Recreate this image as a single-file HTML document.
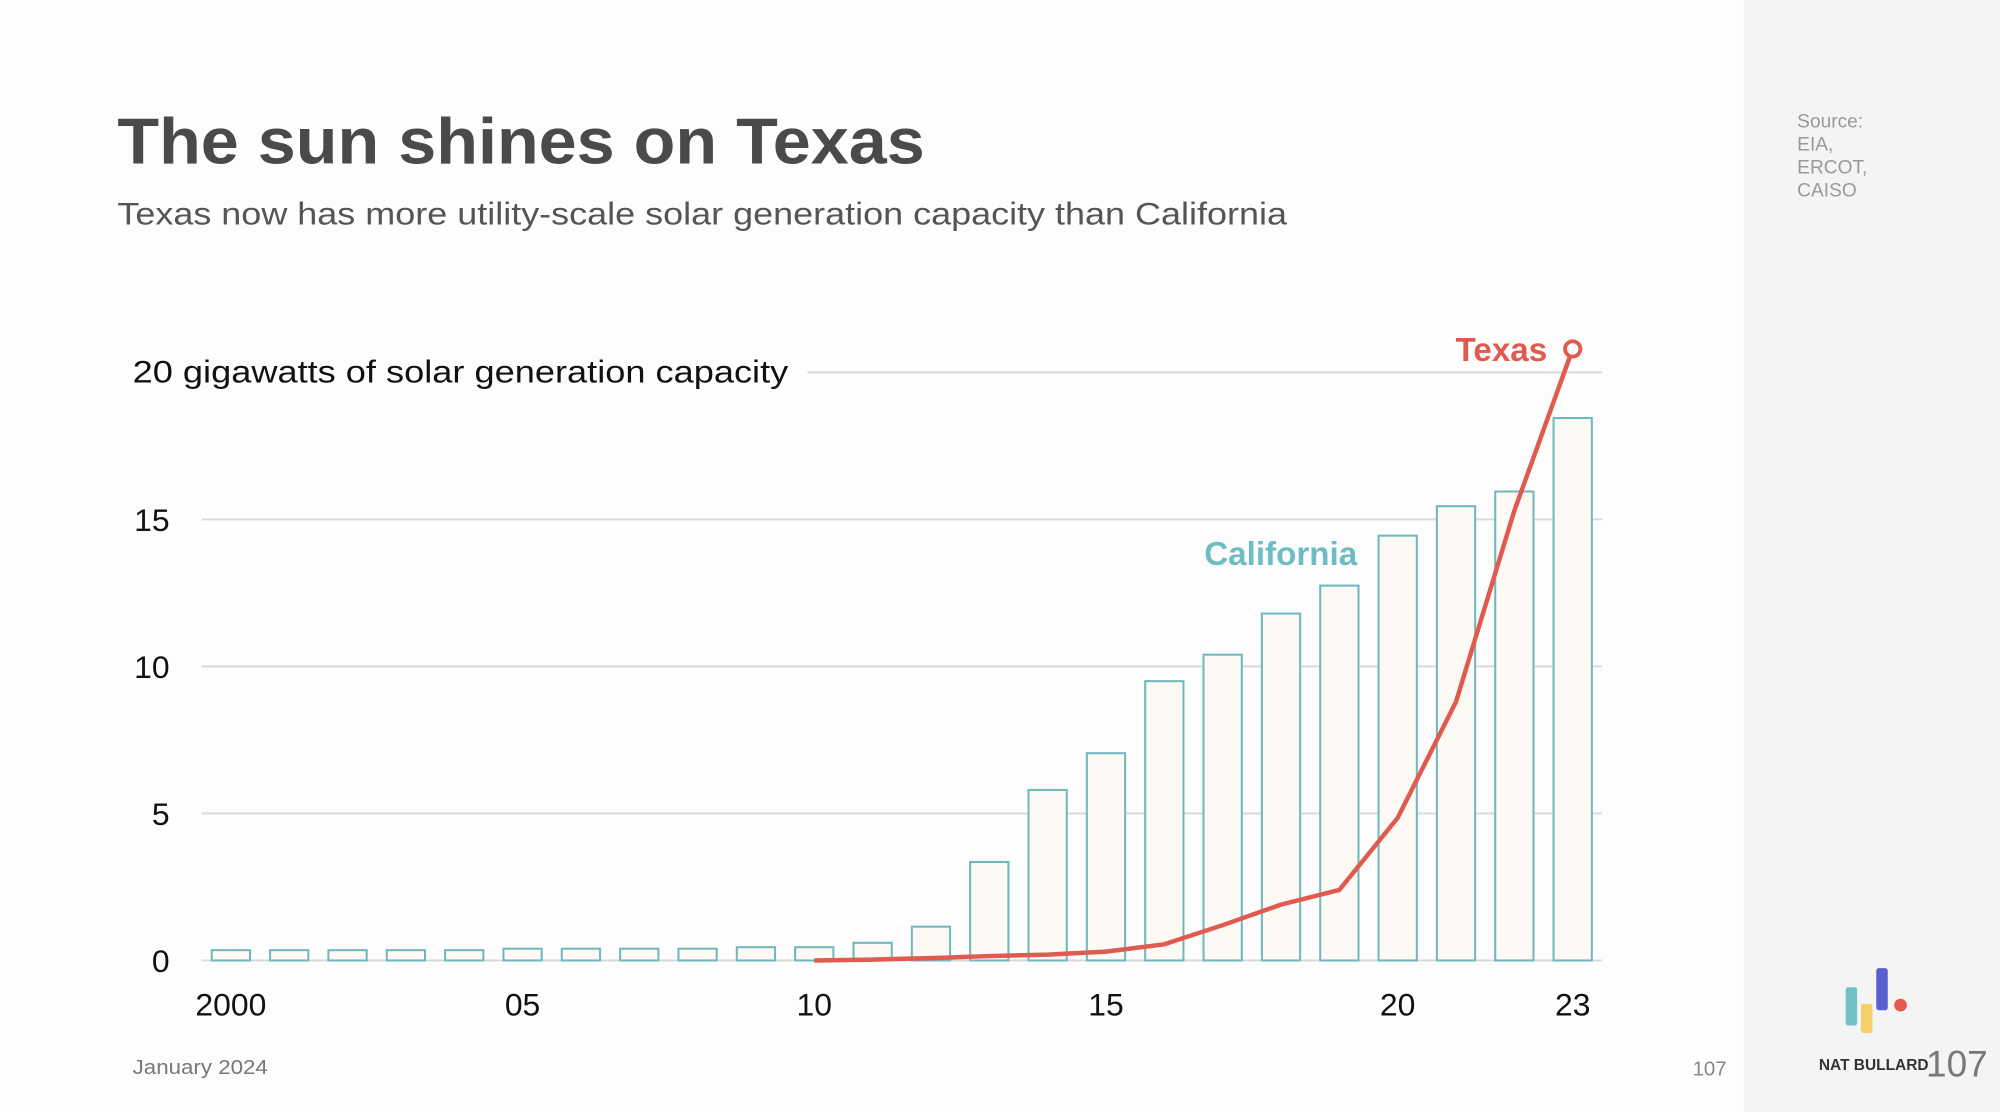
<!DOCTYPE html>
<html><head><meta charset="utf-8"><style>
html,body{margin:0;padding:0;background:#fdfdfd;}
svg{display:block;font-family:"Liberation Sans",sans-serif;}
</style></head><body>
<svg id="chart" width="2000" height="1112" viewBox="0 0 1568 871.8" xmlns="http://www.w3.org/2000/svg">
<rect x="0" y="0" width="1568" height="872" fill="#fdfdfd"/>
<rect x="1367" y="0" width="201" height="872" fill="#f4f4f4"/>
<text x="92" y="128" font-size="51" font-weight="bold" fill="#4a4a4a" textLength="633" lengthAdjust="spacingAndGlyphs">The sun shines on Texas</text>
<text x="92" y="176" font-size="25" fill="#555" textLength="917" lengthAdjust="spacingAndGlyphs">Texas now has more utility-scale solar generation capacity than California</text>
<g font-size="15" fill="#999">
<text x="1409" y="100">Source:</text><text x="1409" y="118">EIA,</text><text x="1409" y="136">ERCOT,</text><text x="1409" y="154">CAISO</text></g>
<text x="104" y="842" font-size="16" fill="#777" textLength="106" lengthAdjust="spacingAndGlyphs">January 2024</text>
<text x="1327" y="843" font-size="16" fill="#888">107</text>
<g>
<rect x="1447" y="774" width="9" height="30" rx="2" fill="#74c0c6"/>
<rect x="1459" y="787" width="9" height="23" rx="2" fill="#f5cf6a"/>
<rect x="1471" y="759" width="9" height="33" rx="2" fill="#5a5fd0"/>
<circle cx="1490" cy="788" r="5" fill="#e05a50"/>
</g>
<text x="1426" y="839" font-size="12" font-weight="bold" fill="#333" textLength="86" lengthAdjust="spacingAndGlyphs">NAT BULLARD</text>
<text x="1510" y="844" font-size="29" fill="#777">107</text>
<g id="grid"></g><g id="bars"></g><g id="line"></g><g id="xlabels"></g>
<text x="1064" y="443" font-size="26" font-weight="bold" fill="#6fbcc4" text-anchor="end">California</text>
<text x="1213" y="283" font-size="26" font-weight="bold" fill="#e05a50" text-anchor="end">Texas</text>
</svg>
<script>
const years=[2000,2001,2002,2003,2004,2005,2006,2007,2008,2009,2010,2011,2012,2013,2014,2015,2016,2017,2018,2019,2020,2021,2022,2023];
const california=[0.35,0.35,0.35,0.35,0.35,0.4,0.4,0.4,0.4,0.45,0.45,0.6,1.15,3.35,5.8,7.05,9.5,10.4,11.8,12.75,14.45,15.45,15.95,18.45];
const texasYears=[2010,2011,2012,2013,2014,2015,2016,2017,2018,2019,2020,2021,2022,2023];
const texas=[0,0.03,0.08,0.15,0.2,0.3,0.55,1.2,1.9,2.4,4.85,8.8,15.3,20.8];
const yTicks=[0,5,10,15,20];
const xTickYears=[2000,2005,2010,2015,2020,2023];
const xTickLabels=["2000","05","10","15","20","23"];
const NS="http://www.w3.org/2000/svg";
const x=y=>181+(y-2000)*(1052/23);
const yS=v=>753-v*23.05;
function mk(tag,attrs,parent){const e=document.createElementNS(NS,tag);for(const k in attrs)e.setAttribute(k,attrs[k]);parent.appendChild(e);return e;}
const grid=document.getElementById('grid');
yTicks.forEach(t=>{
  const x0=t===20?633:158;
  const l=mk('line',{x1:x0,x2:1256,y1:yS(t),y2:yS(t),stroke:'#d8d8d8','stroke-width':1.5},grid);
  
  
  let tx;
  if(t===20){
    tx=mk('text',{x:104,y:yS(t)+8,'font-size':25,fill:'#111',textLength:514,lengthAdjust:'spacingAndGlyphs'},grid);
    tx.textContent='20 gigawatts of solar generation capacity';
  } else {
    tx=mk('text',{x:133,y:yS(t)+9,'font-size':25,fill:'#111','text-anchor':'end'},grid);
    tx.textContent=String(t);
  }
  
  
});
const bars=document.getElementById('bars');
years.forEach((yr,i)=>{
  const top=yS(california[i]);
  const r=mk('rect',{x:x(yr)-15,y:top,width:30,height:753-top,fill:'#fdf9f4',stroke:'#6fb8be','stroke-width':1.6},bars);
  
  
});
const lg=document.getElementById('line');
const pts=texasYears.map((yr,i)=>x(yr)+','+yS(texas[i])).join(' ');
const pl=mk('polyline',{points:pts,fill:'none',stroke:'#e05a50','stroke-width':3.5,'stroke-linejoin':'round'},lg);


const last=texas.length-1;
const c=mk('circle',{cx:x(texasYears[last]),cy:yS(texas[last]),r:6,fill:'#fff',stroke:'#e05a50','stroke-width':3},lg);


const xl=document.getElementById('xlabels');
xTickYears.forEach((yr,i)=>{
  const t=mk('text',{x:x(yr),y:796,'font-size':25,fill:'#111','text-anchor':'middle'},xl);
  t.textContent=xTickLabels[i];
  
  
});
</script>
</body></html>
